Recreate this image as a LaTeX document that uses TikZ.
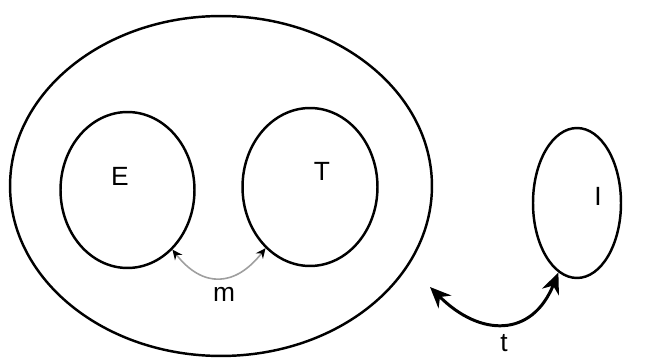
\documentclass[tikz,border=0pt]{standalone}
\usepackage{fontspec}
\setmainfont{Liberation Sans}
\usetikzlibrary{shapes.geometric,arrows.meta}
\begin{document}
\begin{tikzpicture}[x=0.02cm,y=-0.02cm,
  set/.style={draw, ellipse, line width=1.4pt, inner sep=0pt},
  lbl/.style={inner sep=0pt, font=\fontsize{15}{18}\selectfont},
  marrow/.style={draw=gray!75, line width=0.9pt,
     {Stealth[length=2mm,width=1.8mm,color=black]}-{Stealth[length=2mm,width=1.8mm,color=black]}},
  tarrow/.style={draw=black, line width=1.7pt,
     {Stealth[length=4.2mm,width=3.6mm]}-{Stealth[length=4.2mm,width=3.6mm]}}]
\useasboundingbox (0,0) rectangle (650,358);
\node[set, minimum width=8.44cm, minimum height=6.8cm] (outer) at (221,186) {};
\node[set, minimum width=2.68cm, minimum height=3.12cm] (E) at (127.5,190) {};
\node[set, minimum width=2.7cm, minimum height=3.16cm] (T) at (310,187) {};
\node[set, minimum width=1.76cm, minimum height=3.0cm] (I) at (577,203) {};
\node[lbl] (lE) at (120,176) {E};
\node[lbl] (lT) at (322,171) {T};
\node[lbl] (lI) at (598,196) {I};
\node[lbl] (lm) at (224,294) {m};
\node[lbl] (lt) at (504,343) {t};
\coordinate (tstart) at (430,287);
\draw[marrow] (E.-53) to[out=-52,in=-128,looseness=1.35] (T.-126);
\draw[tarrow] (tstart) to[out=-45,in=-112,looseness=1.4] (I.-105);
\end{tikzpicture}
\end{document}
